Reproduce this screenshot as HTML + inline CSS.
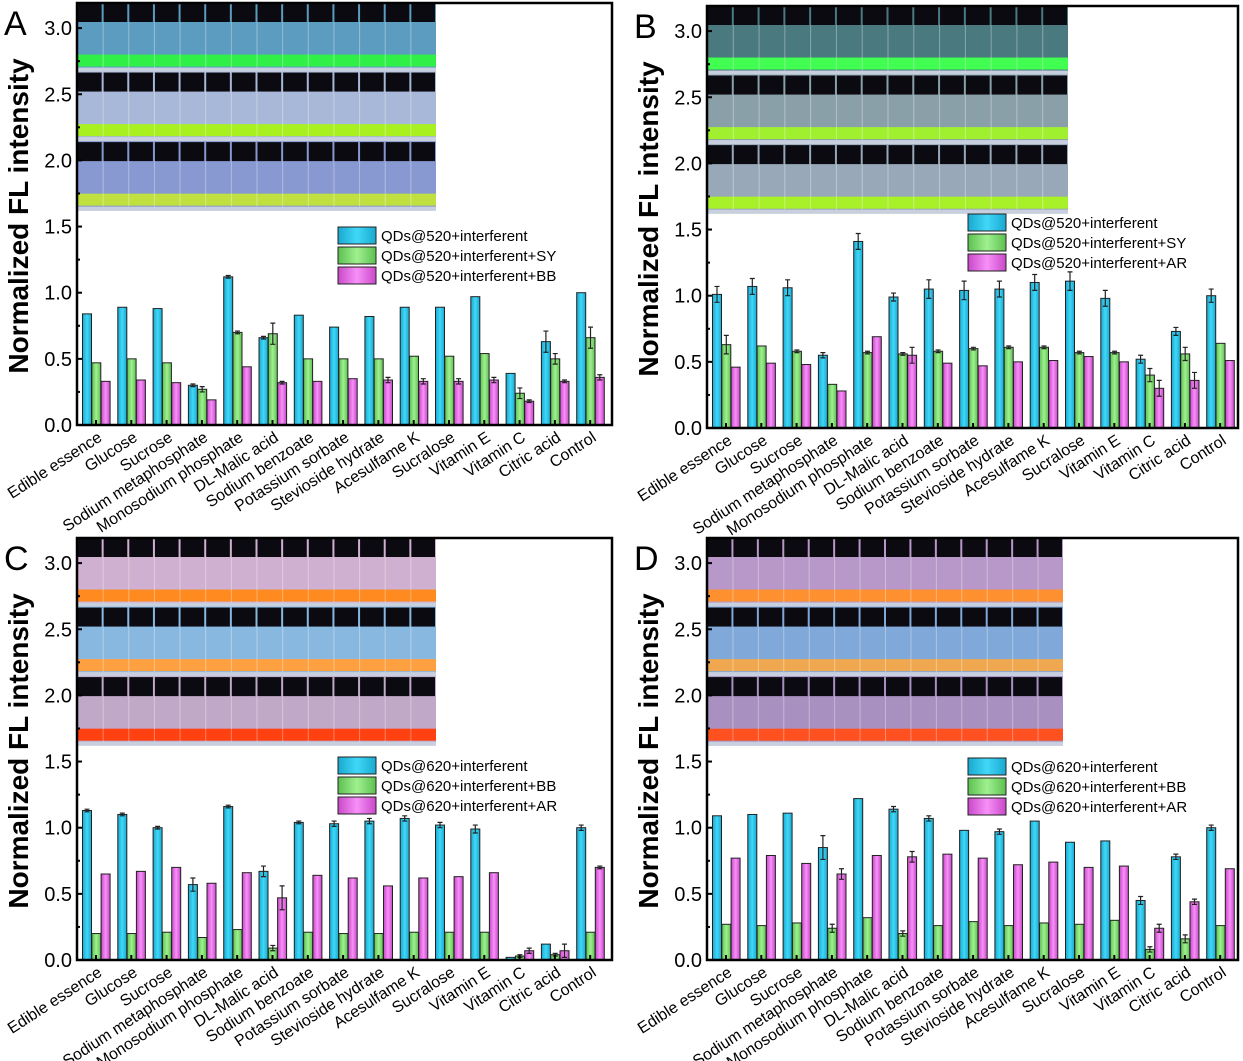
<!DOCTYPE html>
<html><head><meta charset="utf-8"><style>
body{margin:0;background:#fff}
svg{display:block}
text{font-family:"Liberation Sans",sans-serif}
</style></head><body>
<svg id="s" width="1243" height="1061" xmlns="http://www.w3.org/2000/svg">
<defs>
<linearGradient id="gb" x1="0" x2="1"><stop offset="0" stop-color="#1aa8d0"/><stop offset=".5" stop-color="#40d8f8"/><stop offset="1" stop-color="#1aa8d0"/></linearGradient>
<linearGradient id="gg" x1="0" x2="1"><stop offset="0" stop-color="#5cc050"/><stop offset=".5" stop-color="#a0f090"/><stop offset="1" stop-color="#5cc050"/></linearGradient>
<linearGradient id="gp" x1="0" x2="1"><stop offset="0" stop-color="#c848c8"/><stop offset=".5" stop-color="#f890f8"/><stop offset="1" stop-color="#c848c8"/></linearGradient>
</defs>
</svg>
<script>
const S=document.getElementById('s');let h='';
const names=["Edible essence","Glucose","Sucrose","Sodium metaphosphate","Monosodium phosphate","DL-Malic acid","Sodium benzoate","Potassium sorbate","Stevioside hydrate","Acesulfame K","Sucralose","Vitamin E","Vitamin C","Citric acid","Control"];
const P=[
{L:'A',l:77,r:612,y0:425,pr:436,lo:190,leg:["QDs@520+interferent","QDs@520+interferent+SY","QDs@520+interferent+BB"],
rows:[["#5c9cc0","#30f048"],["#a8b8d8","#a8f020"],["#8898d0","#c0e040"]],
d:[[.84,.89,.88,.30,1.12,.66,.83,.74,.82,.89,.89,.97,.39,.63,1.0],[.47,.50,.47,.27,.70,.69,.50,.50,.50,.52,.52,.54,.24,.50,.66],[.33,.34,.32,.19,.44,.32,.33,.35,.34,.33,.33,.34,.18,.33,.36]],
e:[[0,0,0,.01,.01,.01,0,0,0,0,0,0,0,.08,0],[0,0,0,.02,.01,.08,0,0,0,0,0,0,.04,.04,.08],[0,0,0,0,0,.01,0,0,.02,.02,.02,.02,.01,.01,.02]]},
{L:'B',l:707,r:1238,y0:428,pr:1068,lo:206,leg:["QDs@520+interferent","QDs@520+interferent+SY","QDs@520+interferent+AR"],
rows:[["#4a7a80","#40ff50"],["#8aa0a8","#a0f030"],["#98a8b8","#a8f028"]],
d:[[1.01,1.07,1.06,.55,1.41,.99,1.05,1.04,1.05,1.10,1.11,.98,.52,.73,1.0],[.63,.62,.58,.33,.57,.56,.58,.60,.61,.61,.57,.57,.40,.56,.64],[.46,.49,.48,.28,.69,.55,.49,.47,.50,.51,.54,.50,.30,.36,.51]],
e:[[.06,.06,.06,.02,.06,.03,.07,.07,.06,.06,.07,.06,.03,.03,.05],[.07,0,.01,0,.01,.01,.01,.01,.01,.01,.01,.01,.05,.05,0],[0,0,0,0,0,.06,0,0,0,0,0,0,.06,.06,0]]},
{L:'C',l:77,r:612,y0:960,pr:436,lo:195,leg:["QDs@620+interferent","QDs@620+interferent+BB","QDs@620+interferent+AR"],
rows:[["#d0b0d0","#ff8a20"],["#88b8e0","#ffa040"],["#c0a8c8","#ff4010"]],
d:[[1.13,1.10,1.00,.57,1.16,.67,1.04,1.03,1.05,1.07,1.02,.99,.02,.12,1.0],[.20,.20,.21,.17,.23,.09,.21,.20,.20,.21,.21,.21,.03,.04,.21],[.65,.67,.70,.58,.66,.47,.64,.62,.56,.62,.63,.66,.07,.07,.70]],
e:[[.01,.01,.01,.05,.01,.04,.01,.02,.02,.02,.02,.03,0,0,.02],[0,0,0,0,0,.02,0,0,0,0,0,0,.01,.01,0],[0,0,0,0,0,.09,0,0,0,0,0,0,.02,.05,.01]]},
{L:'D',l:707,r:1238,y0:960,pr:1063,lo:194,leg:["QDs@620+interferent","QDs@620+interferent+BB","QDs@620+interferent+AR"],
rows:[["#b898c8","#ff9030"],["#80a8d8","#f0a850"],["#a890c0","#ff5020"]],
d:[[1.09,1.10,1.11,.85,1.22,1.14,1.07,.98,.97,1.05,.89,.90,.45,.78,1.0],[.27,.26,.28,.24,.32,.20,.26,.29,.26,.28,.27,.30,.08,.16,.26],[.77,.79,.73,.65,.79,.78,.80,.77,.72,.74,.70,.71,.24,.44,.69]],
e:[[0,0,0,.09,0,.02,.02,0,.02,0,0,0,.03,.02,.02],[0,0,0,.03,0,.02,0,0,0,0,0,0,.02,.03,0],[0,0,0,.04,0,.04,0,0,0,0,0,0,.03,.02,0]]}
];
const k=132.3, fills=['url(#gb)','url(#gg)','url(#gp)'];
P.forEach(p=>{
 const top=p.y0-423, Y=v=>p.y0-v*k;
 const ph=(p.y0-1.62*k)-top, rh=ph/3, pw=p.pr-p.l, vw=pw/14;
 for(let r=0;r<3;r++){const ry=top+r*rh,c=p.rows[r];
  h+=`<rect x="${p.l}" y="${ry}" width="${pw}" height="${rh}" fill="${c[0]}"/>`;
  h+=`<rect x="${p.l}" y="${ry+rh-17}" width="${pw}" height="12" fill="${c[1]}"/>`;
  h+=`<rect x="${p.l}" y="${ry+rh-4}" width="${pw}" height="4" fill="#c8d0e0"/>`;
  for(let i=0;i<14;i++){h+=`<rect x="${p.l+i*vw+1}" y="${ry+1}" width="${vw-2}" height="19" fill="#0a0a10"/><line x1="${p.l+i*vw+0.5}" y1="${ry+20}" x2="${p.l+i*vw+0.5}" y2="${ry+rh-4}" stroke="#fff" stroke-opacity=".35"/>`;}
 }
 for(let s=0;s<3;s++)for(let i=0;i<15;i++){const cx=p.l+10+i*35.3+s*9.3,v=p.d[s][i],er=p.e[s][i];
  h+=`<rect x="${cx-4.5}" y="${Y(v)}" width="9" height="${v*k}" fill="${fills[s]}" stroke="#222" stroke-width="1"/>`;
  if(er>0){h+=`<path d="M${cx} ${Y(v+er)}V${Y(v-er)}M${cx-2.5} ${Y(v+er)}h5M${cx-2.5} ${Y(v-er)}h5" stroke="#222" stroke-width="1.2" fill="none"/>`;}
 }
 h+=`<rect x="${p.l}" y="${top+1}" width="${p.r-p.l}" height="${p.y0-top-1}" fill="none" stroke="#000" stroke-width="2.5"/>`;
 for(let t=0;t<=6;t++){const v=t*0.5,y=Y(v);
  h+=`<line x1="${p.l}" x2="${p.l+5}" y1="${y}" y2="${y}" stroke="#000" stroke-width="2"/>`;
  if(t<6)h+=`<line x1="${p.l}" x2="${p.l+3}" y1="${Y(v+.25)}" y2="${Y(v+.25)}" stroke="#000" stroke-width="2"/>`;
  h+=`<text x="${p.l-5}" y="${y+7}" font-size="20" text-anchor="end">${v.toFixed(1)}</text>`;}
 for(let i=0;i<15;i++){const cx=p.l+19+i*35.3;
  h+=`<line x1="${cx}" x2="${cx}" y1="${p.y0}" y2="${p.y0-5}" stroke="#000" stroke-width="2"/>`;
  h+=`<text transform="translate(${cx+7},${p.y0+15}) rotate(-33)" font-size="16" text-anchor="end">${names[i]}</text>`;}
 const lx=p.l+261, ly=p.y0-p.lo;
 for(let s=0;s<3;s++){h+=`<rect x="${lx}" y="${ly+s*20-8}" width="38" height="17" fill="${fills[s]}" stroke="#222"/><text x="${lx+43}" y="${ly+s*20+6}" font-size="15">${p.leg[s]}</text>`;}
 h+=`<text transform="translate(${p.l-49},${p.y0-209}) rotate(-90)" font-size="28" font-weight="bold" text-anchor="middle">Normalized FL intensity</text>`;
 h+=`<text x="${p.l-73}" y="${top+33}" font-size="34">${p.L}</text>`;
});
S.insertAdjacentHTML('beforeend',h);
</script>
</body></html>
